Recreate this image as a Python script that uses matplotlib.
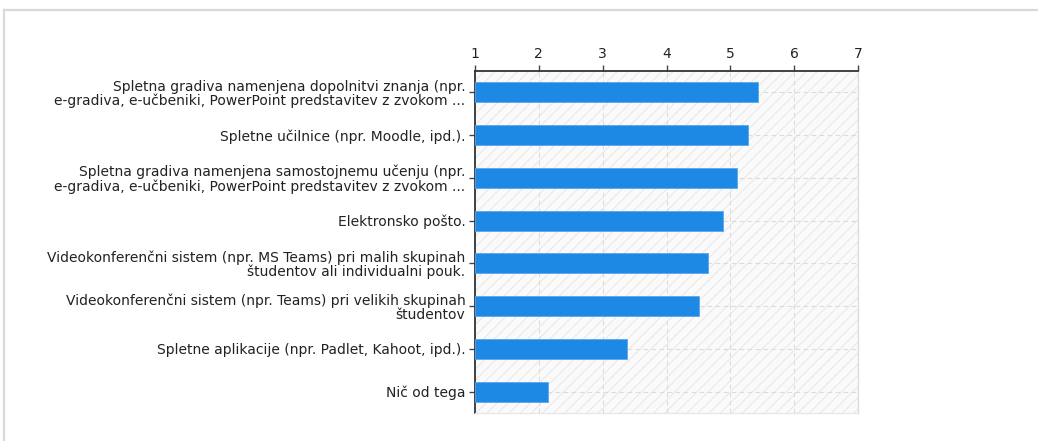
import matplotlib
matplotlib.use("Agg")
import matplotlib.pyplot as plt
from matplotlib.patches import Rectangle
from matplotlib.lines import Line2D

categories = [
    "Spletna gradiva namenjena dopolnitvi znanja (npr.\ne-gradiva, e-učbeniki, PowerPoint predstavitev z zvokom ...",
    "Spletne učilnice (npr. Moodle, ipd.).",
    "Spletna gradiva namenjena samostojnemu učenju (npr.\ne-gradiva, e-učbeniki, PowerPoint predstavitev z zvokom ...",
    "Elektronsko pošto.",
    "Videokonferenčni sistem (npr. MS Teams) pri malih skupinah\nštudentov ali individualni pouk.",
    "Videokonferenčni sistem (npr. Teams) pri velikih skupinah\nštudentov",
    "Spletne aplikacije (npr. Padlet, Kahoot, ipd.).",
    "Nič od tega",
]
values = [5.43, 5.27, 5.10, 4.88, 4.65, 4.51, 3.38, 2.15]
x_ticks = [1, 2, 3, 4, 5, 6, 7]

plt.rcParams['font.family'] = ['DejaVu Sans']
plt.rcParams['hatch.linewidth'] = 0.6
plt.rcParams['hatch.color'] = '#e6e6e6'

W, H = 1038, 441
fig = plt.figure(figsize=(W / 100, H / 100), dpi=100)
fig.patch.set_facecolor('white')

# outer frame lines
fig.add_artist(Line2D([4 / W, 1.0], [1 - 10 / H, 1 - 10 / H], transform=fig.transFigure,
                      color='#d9d9d9', linewidth=1.6))
fig.add_artist(Line2D([4.5 / W, 4.5 / W], [0, 1 - 10 / H], transform=fig.transFigure,
                      color='#d9d9d9', linewidth=1.6))

left, right, top, bottom = 475, 858, 71, 413
ax = fig.add_axes([left / W, 1 - bottom / H, (right - left) / W, (bottom - top) / H])
ax.set_facecolor('#fafafa')

ypos = list(range(len(categories)))
ax.add_patch(Rectangle((0, 0), 1, 1, transform=ax.transAxes, facecolor='none',
                       hatch='///', edgecolor='#e4e4e4', linewidth=0, zorder=0))

ax.barh(ypos, [v - 1 for v in values], left=1, height=0.47, color='#1e88e5',
        edgecolor='#5aa8ee', linewidth=0.6, zorder=3)

ax.set_xlim(1, 7)
ax.set_ylim(len(categories) - 0.5, -0.5)
ax.set_xticks(x_ticks)
ax.set_xticklabels([str(t) for t in x_ticks])
ax.set_yticks(ypos)
ax.set_yticklabels(categories, linespacing=1.0)

ax.xaxis.set_ticks_position('top')
ax.xaxis.set_label_position('top')
ax.tick_params(axis='x', direction='out', length=4.5, width=1, color='#444444',
               labelsize=10, pad=2.5, labelcolor='#222222')
ax.tick_params(axis='y', direction='out', length=4, width=1, color='#444444',
               labelsize=10, pad=3, labelcolor='#222222')

for side in ['left', 'top']:
    ax.spines[side].set_color('#333333')
    ax.spines[side].set_linewidth(1.3)
ax.spines['right'].set_color('#dddddd')
ax.spines['bottom'].set_color('#e8e8e8')
ax.spines['right'].set_linewidth(1)
ax.spines['bottom'].set_linewidth(1)

ax.grid(True, color='#dcdcdc', linestyle=(0, (4.3, 2.9)), linewidth=0.8, zorder=1)
ax.set_axisbelow(True)

fig.savefig('out.png', dpi=100, facecolor='white')
